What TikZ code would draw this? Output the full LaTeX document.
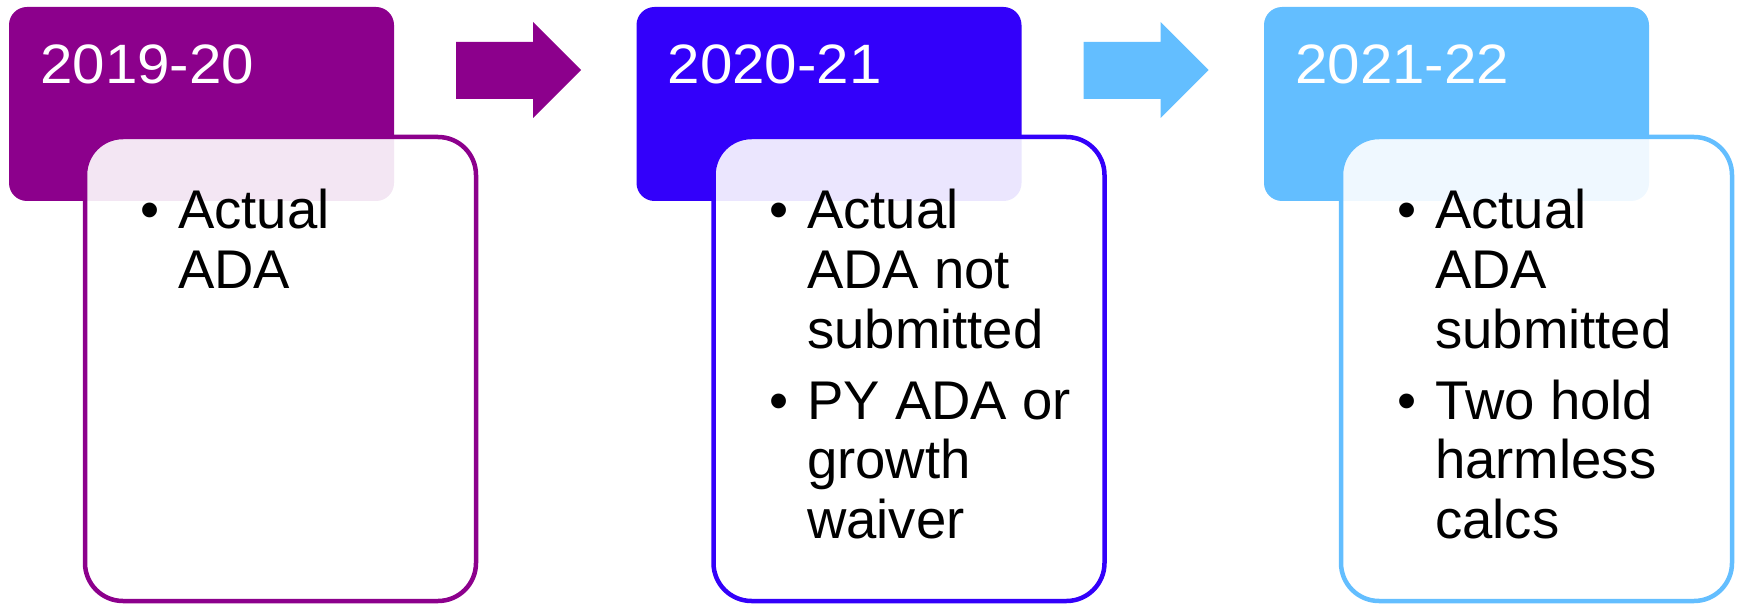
\documentclass[tikz,border=0pt]{standalone}
\usepackage{fontspec}
\setmainfont{Liberation Sans}
\newfontfamily\hdrfamily[FakeStretch=1.05]{Liberation Sans}
\definecolor{cpur}{HTML}{8C008C}
\definecolor{cblu}{HTML}{3300FA}
\definecolor{clbl}{HTML}{63BEFF}
\newcommand{\txtfont}{\fontsize{54.5}{59.5}\selectfont}
\newcommand{\hdrtxtfont}{\hdrfamily\fontsize{55.5}{60}\selectfont}
\tikzset{
  hdr/.style={rectangle, rounded corners=18pt, minimum width=385pt, minimum height=194pt, inner sep=0pt, draw=none},
  bodybox/.style={rectangle, rounded corners=38pt, minimum width=391pt, minimum height=464pt, inner sep=0pt, line width=4.5pt, fill=white, fill opacity=0.9},
  hdrtxt/.style={anchor=base west, inner sep=0pt, text=white, font=\hdrtxtfont},
  ln/.style={anchor=base west, inner sep=0pt, text=black, font=\txtfont}
}
\begin{document}
\begin{tikzpicture}[x=1pt,y=-1pt]
\useasboundingbox (0,0) rectangle (1741,604);
% headers
\node[hdr, fill=cpur] (h1) at (201.5,104) {};
\node[hdr, fill=cblu] (h2) at (829,104) {};
\node[hdr, fill=clbl] (h3) at (1456.5,104) {};
\node[hdrtxt] (t1) at (40,84) {2019-20};
\node[hdrtxt] (t2) at (667.5,84) {2020-21};
\node[hdrtxt] (t3) at (1295,84) {2021-22};
% arrows
\fill[cpur] (456,42) -- (533,42) -- (533,22) -- (581,70) -- (533,118) -- (533,99) -- (456,99) -- cycle;
\fill[clbl] (1083.5,42) -- (1160.5,42) -- (1160.5,22) -- (1208.5,70) -- (1160.5,118) -- (1160.5,99) -- (1083.5,99) -- cycle;
% body boxes
\node[bodybox, draw=cpur] (b1) at (280.5,369) {};
\node[bodybox, draw=cblu] (b2) at (909,369) {};
\node[bodybox, draw=clbl] (b3) at (1536.5,369) {};
% box 1 text
\node[ln] (p1a) at (140,229) {\textbullet};
\node[ln] (l1a) at (178,229) {Actual};
\node[ln] (l1b) at (178,288) {ADA};
% box 2 text
\node[ln] (p2a) at (769,229) {\textbullet};
\node[ln] (l2a) at (807,229) {Actual};
\node[ln] (l2b) at (807,288) {ADA not};
\node[ln] (l2c) at (807,348) {submitted};
\node[ln] (p2b) at (769,419) {\textbullet};
\node[ln] (l2d) at (807,419) {PY ADA or};
\node[ln] (l2e) at (807,478) {growth};
\node[ln] (l2f) at (807,538) {waiver};
% box 3 text
\node[ln] (p3a) at (1397,229) {\textbullet};
\node[ln] (l3a) at (1435,229) {Actual};
\node[ln] (l3b) at (1435,288) {ADA};
\node[ln] (l3c) at (1435,348) {submitted};
\node[ln] (p3b) at (1397,419) {\textbullet};
\node[ln] (l3d) at (1435,419) {Two hold};
\node[ln] (l3e) at (1435,478) {harmless};
\node[ln] (l3f) at (1435,538) {calcs};
\end{tikzpicture}
\end{document}
